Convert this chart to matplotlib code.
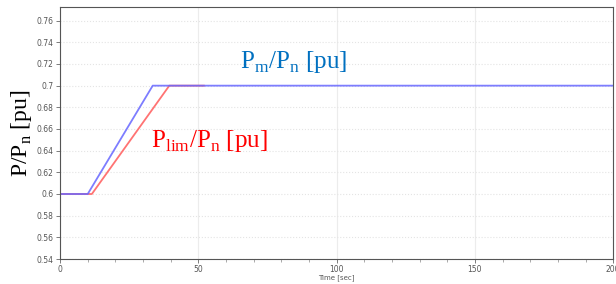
import matplotlib
matplotlib.use("Agg")
import matplotlib.pyplot as plt
from matplotlib.ticker import MultipleLocator

# values
time_m = [0, 10, 33.5, 35, 200]
p_m = [0.6, 0.6, 0.7, 0.7, 0.7]
time_lim = [0, 11.5, 39.5, 52]
p_lim = [0.6, 0.6, 0.7, 0.7]
yticks = [0.54, 0.56, 0.58, 0.6, 0.62, 0.64, 0.66, 0.68, 0.7, 0.72, 0.74, 0.76]
ytick_labels = ["0.54", "0.56", "0.58", "0.6", "0.62", "0.64", "0.66", "0.68", "0.7", "0.72", "0.74", "0.76"]
xticks = [0, 50, 100, 150, 200]

plt.rcParams['mathtext.fontset'] = 'custom'
plt.rcParams['mathtext.rm'] = 'Liberation Serif'

fig = plt.figure(figsize=(6.16, 2.84), dpi=100)
ax = fig.add_axes([0.0975, 0.088, 0.898, 0.887])

ax.plot(time_lim, p_lim, color=(1.0, 0.45, 0.45), linewidth=1.3)
ax.plot(time_m, p_m, color=(0.4, 0.4, 1.0), linewidth=1.3, alpha=0.85)

ax.set_xlim(0, 200)
ax.set_ylim(0.54, 0.7725)
ax.set_yticks(yticks)
ax.set_yticklabels(ytick_labels)
ax.set_xticks(xticks)
ax.xaxis.set_minor_locator(MultipleLocator(10))

ax.grid(axis='y', color='#e4e4e4', linestyle=':', linewidth=0.8)
ax.grid(axis='x', which='major', color='#ececec', linestyle='-', linewidth=0.8)
ax.tick_params(labelsize=5.5, labelcolor='#555555', color='#666666', length=3, width=0.6, pad=1.5)
ax.tick_params(which='minor', length=2, width=0.5, color='#888888')
for s in ax.spines.values():
    s.set_color('#555555')
    s.set_linewidth(0.8)

ax.set_xlabel('Time [sec]', fontsize=5, color='#555555', labelpad=0)
ax.set_ylabel(r'P/P$_\mathrm{n}$ [pu]', fontsize=17, family='Liberation Serif', labelpad=2)

ax.text(84.5, 0.7215, r'P$_\mathrm{m}$/P$_\mathrm{n}$ [pu]', fontsize=18,
        family='Liberation Serif', color='#0070c0', ha='center', va='center')
ax.text(54, 0.649, r'P$_\mathrm{lim}$/P$_\mathrm{n}$ [pu]', fontsize=18,
        family='Liberation Serif', color='red', ha='center', va='center')

fig.savefig('out.png', dpi=100)
